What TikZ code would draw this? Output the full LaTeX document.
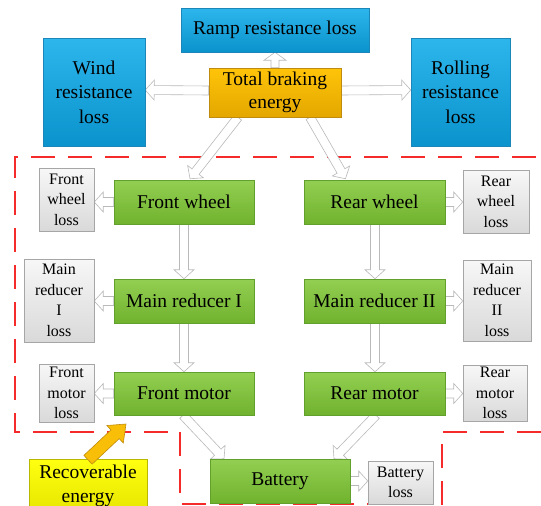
\documentclass[tikz,border=0pt]{standalone}
\usepackage{fontspec}
\setmainfont{Liberation Serif}
\newfontfamily\tnr{Liberation Serif}
\usetikzlibrary{calc,shadows}
\pgfdeclarelayer{bg}\pgfdeclarelayer{mid}
\pgfsetlayers{bg,mid,main}
\definecolor{blueT}{HTML}{2DB6EC}\definecolor{blueB}{HTML}{0A93CC}\definecolor{blueD}{HTML}{1C86B8}
\definecolor{greenT}{HTML}{93CF52}\definecolor{greenB}{HTML}{70B22E}\definecolor{greenD}{HTML}{62A02E}
\definecolor{orT}{HTML}{FFC409}\definecolor{orB}{HTML}{E3A700}\definecolor{orD}{HTML}{C08C10}
\definecolor{grT}{HTML}{F7F7F7}\definecolor{grB}{HTML}{D9D9D9}\definecolor{grD}{HTML}{A6A6A6}
\definecolor{yeT}{HTML}{FFFF10}\definecolor{yeB}{HTML}{E6E600}\definecolor{yeD}{HTML}{B8B800}
\definecolor{redD}{HTML}{F52A2A}
\newcommand\blockarrow[6]{%
 \coordinate (ba-s) at (#2); \coordinate (ba-e) at (#3);
 \coordinate (ba-c) at ($(ba-e)!#6!(ba-s)$);
 \draw[#1] ($(ba-s)!#4!90:(ba-e)$) -- ($(ba-c)!#4!90:(ba-e)$) -- ($(ba-c)!#5!90:(ba-e)$) -- (ba-e) -- ($(ba-c)!#5!-90:(ba-e)$) -- ($(ba-c)!#4!-90:(ba-e)$) -- ($(ba-s)!#4!-90:(ba-e)$) -- cycle;}
\newcommand\hollow[2]{\blockarrow{hollowarrow}{#1}{#2}{4.5pt}{10pt}{9pt}}
\tikzset{
 box/.style={inner sep=0pt, align=center, line width=0.5pt,
   drop shadow={shadow xshift=1.3pt,shadow yshift=-1.3pt,opacity=0.3,fill=black}},
 big/.style={font=\tnr\fontsize{19.5}{24.5}\selectfont},
 small/.style={font=\tnr\fontsize{16}{20.5}\selectfont},
 bluebox/.style={box,big,draw=blueD,top color=blueT,bottom color=blueB},
 greenbox/.style={box,big,draw=greenD,top color=greenT,bottom color=greenB},
 orangebox/.style={box,draw=orD,top color=orT,bottom color=orB,font=\tnr\fontsize{19.5}{23}\selectfont},
 graybox/.style={box,small,draw=grD,top color=grT,bottom color=grB},
 yellowbox/.style={box,big,draw=yeD,top color=yeT,bottom color=yeB},
 hollowarrow/.style={fill=white,draw=gray!55,line width=0.6pt,line join=miter},
 orangearrow/.style={fill=orT!80!orB,draw=orD,line width=0.6pt},
 reddash/.style={draw=redD,line width=1.8pt,dash pattern=on 24pt off 13pt},
 wh/.style 2 args={minimum width=#1,minimum height=#2}
}
\begin{document}
\begin{tikzpicture}[x=1pt,y=-1pt]
\useasboundingbox (0,0) rectangle (541,506);
% top level
\node[bluebox,wh={188pt}{44pt}] (ramp) at (275,30) {Ramp resistance loss};
\node[bluebox,wh={102pt}{108pt}] (wind) at (94,92) {Wind\\resistance\\loss};
\node[bluebox,wh={99pt}{108pt}] (roll) at (460.5,92) {Rolling\\resistance\\loss};
\node[orangebox,wh={132pt}{49pt}] (total) at (275,92.5) {Total braking\\energy};
% green chain
\node[greenbox,wh={140pt}{44pt}] (fw) at (184,202) {Front wheel};
\node[greenbox,wh={141pt}{44pt}] (rw) at (374.5,202) {Rear wheel};
\node[greenbox,wh={140pt}{44pt}] (mr1) at (184,301) {Main reducer I};
\node[greenbox,wh={141pt}{44pt}] (mr2) at (374.5,301) {Main reducer II};
\node[greenbox,wh={140pt}{43pt}] (fm) at (184,393.5) {Front motor};
\node[greenbox,wh={141pt}{43pt}] (rm) at (374.5,393.5) {Rear motor};
\node[greenbox,wh={140pt}{44pt}] (bat) at (280,481) {Battery};
% losses
\node[graybox,wh={55pt}{63pt}] (fwl) at (66.5,199.5) {Front\\wheel\\loss};
\node[graybox,wh={66pt}{63pt}] (rwl) at (496,201.5) {Rear\\wheel\\loss};
\node[graybox,wh={70pt}{83pt}] (mr1l) at (59,300.5) {Main\\reducer\\I\\loss};
\node[graybox,wh={68pt}{81pt}] (mr2l) at (497,300.5) {Main\\reducer\\II\\loss};
\node[graybox,wh={55pt}{58pt}] (fml) at (66.5,393) {Front\\motor\\loss};
\node[graybox,wh={64pt}{56pt}] (rml) at (495,393) {Rear\\motor\\loss};
\node[graybox,wh={65pt}{43pt}] (batl) at (400.5,482.5) {Battery\\loss};
\node[yellowbox,wh={118pt}{54pt}] (rec) at (88,486) {Recoverable\\energy};
\coordinate (recpt) at (126,424);
% red dashed region
\begin{pgfonlayer}{bg}
\draw[reddash] (536,157) -- (15,157) -- (15,432) -- (168,432);
\draw[reddash] (180,432) -- (180,504) -- (442,504) -- (442,432) -- (541,432);
\end{pgfonlayer}
% arrows
\begin{pgfonlayer}{mid}
\blockarrow{hollowarrow}{$(total.north)$}{$(ramp.south)$}{4pt}{11pt}{8pt}
\hollow{$(total.west)+(0,-2)$}{$(wind.east)+(0,-2)$}
\hollow{$(total.east)+(0,-2)$}{$(roll.west)+(0,-2)$}
\hollow{$(total.south)+(-37,0)$}{$(fw.north)+(6,-1)$}
\hollow{$(total.south)+(35,0)$}{$(rw.north)+(-29,-1)$}
\hollow{fw.south}{mr1.north}
\hollow{$(rw.south)+(0.5,0)$}{$(mr2.north)+(0.5,0)$}
\hollow{mr1.south}{fm.north}
\hollow{$(mr2.south)+(0.5,0)$}{$(rm.north)+(0.5,0)$}
\hollow{$(fm.south)+(-1,0)$}{$(bat.north)+(-56,0)$}
\hollow{$(rm.south)+(1.5,0)$}{$(bat.north)+(54,0)$}
\hollow{fw.west}{fw.west -| fwl.east}
\hollow{mr1.west}{mr1.west -| mr1l.east}
\hollow{fm.west}{fm.west -| fml.east}
\hollow{rw.east}{rw.east -| rwl.west}
\hollow{mr2.east}{mr2.east -| mr2l.west}
\hollow{rm.east}{rm.east -| rml.west}
\hollow{bat.east}{bat.east -| batl.west}
\end{pgfonlayer}
\blockarrow{orangearrow}{$(rec.north)+(0,1)$}{recpt}{6pt}{12pt}{15pt}
\end{tikzpicture}
\end{document}
